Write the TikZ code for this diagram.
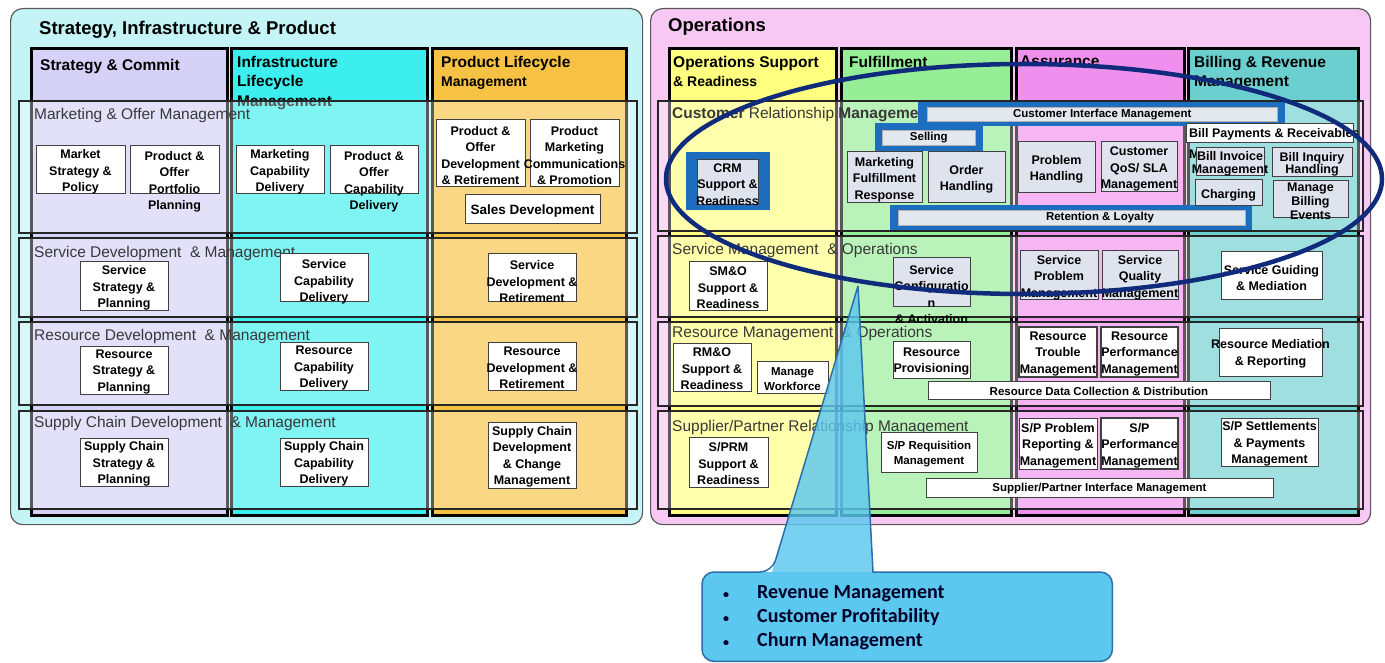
\documentclass[tikz,border=0pt]{standalone}
\usepackage{fontspec}
\setmainfont{Liberation Sans}
\newfontfamily\calloutfamily{Carlito}
\usepackage{tikz}
\usetikzlibrary{shapes.geometric}
\usepackage{xcolor}
\definecolor{sipcolor}{RGB}{197,244,246}
\definecolor{opscolor}{RGB}{247,200,243}
\definecolor{stratcolor}{RGB}{213,209,247}
\definecolor{infracolor}{RGB}{60,238,238}
\definecolor{prodcolor}{RGB}{247,194,68}
\definecolor{osrcolor}{RGB}{255,255,128}
\definecolor{fulcolor}{RGB}{150,238,150}
\definecolor{asscolor}{RGB}{240,144,238}
\definecolor{billcolor}{RGB}{108,207,207}
\definecolor{hlcolor}{RGB}{30,110,191}
\definecolor{barcolor}{RGB}{227,231,238}
\definecolor{greybox}{RGB}{223,227,238}
\definecolor{ringcolor}{RGB}{16,42,124}
\definecolor{calloutcolor}{RGB}{92,200,240}
\definecolor{calloutedge}{RGB}{43,110,170}

\newcommand{\boxfont}{\bfseries\fontsize{12.5}{16.5}\selectfont}
\newcommand{\barfont}{\bfseries\fontsize{11.5}{15}\selectfont}
% fixed size process box, text may spill over the edges
\newcommand{\etombox}[8][]{%
  \node[pbox, #1, minimum width={#5pt-#3pt}, minimum height={#6pt-#4pt}] (#2) at ({(#3+#5)/2},{(#4+#6)/2}) {};
  \node[ptext, yshift=-2pt, #7] (#2-t) at (#2) {#8};}

\begin{document}
\begin{tikzpicture}[x=1pt, y=-1pt,
    panel/.style={draw=black!65, line width=1.2, rounded corners=12, anchor=north west, inner sep=0},
    paneltitle/.style={font=\bfseries\fontsize{18.5}{22}\selectfont, anchor=west, inner sep=0},
    column/.style={draw=black, line width=3, anchor=north west, inner sep=0},
    colhead/.style={font=\bfseries\fontsize{15.5}{19.5}\selectfont, anchor=north west, align=left, inner sep=0},
    band/.style={draw=black!85, line width=1.6, fill=white, fill opacity=0.35, anchor=north west, inner sep=0},
    rowlabel/.style={font=\fontsize{15.5}{18}\selectfont, text=black!78, anchor=west, inner sep=0},
    pbox/.style={draw=black!75, line width=1, fill=white, inner sep=0, outer sep=0},
    ptext/.style={font=\boxfont, align=center, inner sep=0},
    hlframe/.style={fill=hlcolor, inner sep=0, anchor=north west},
    hlbar/.style={fill=barcolor, draw=black!30, line width=0.6, font=\barfont, inner sep=0, anchor=north west},
]
    \useasboundingbox (0,0) rectangle (1385,663);
    \fill[white] (0,0) rectangle (1385,663);

    % Panels
    \node[panel, fill=sipcolor, minimum width=632, minimum height=516] (sip) at (10,8) {};
    \node[panel, fill=opscolor, minimum width=720, minimum height=516] (ops) at (650,8) {};
    \node[paneltitle] (sip-title) at (39,30) {Strategy, Infrastructure \& Product};
    \node[paneltitle] (ops-title) at (668,27) {Operations};

    % Vertical groupings
    \node[column, fill=stratcolor, minimum width=196, minimum height=467] (strat) at (30,47) {};
    \node[column, fill=infracolor, minimum width=196, minimum height=467] (infra) at (230,47) {};
    \node[column, fill=prodcolor, minimum width=194, minimum height=467] (prod) at (431,47) {};
    \node[column, fill=osrcolor, minimum width=167, minimum height=467] (osr) at (668,47) {};
    \node[column, fill=fulcolor, minimum width=170, minimum height=467] (ful) at (840,47) {};
    \node[column, fill=asscolor, minimum width=168, minimum height=467] (ass) at (1015,47) {};
    \node[column, fill=billcolor, minimum width=170, minimum height=467] (bill) at (1187,47) {};

    \node[colhead] (strat-h) at (40,59) {Strategy \& Commit};
    \node[colhead] (infra-h) at (237,56) {Infrastructure\\Lifecycle\\Management};
    \node[colhead] (prod-h) at (441,56) {Product Lifecycle\\{\fontsize{14}{19.5}\selectfont Management}};
    \node[colhead] (osr-h) at (673,56) {Operations Support\\{\fontsize{14}{19.5}\selectfont \& Readiness}};
    \node[colhead] (ful-h) at (849,56) {Fulfillment};
    \node[colhead] (ass-h) at (1020,56) {Assurance};
    \node[colhead] (bill-h) at (1194,56) {Billing \& Revenue\\Management};

    % Horizontal groupings
    \node[band, minimum width=618, minimum height=132] (mom) at (18,100) {};
    \node[band, minimum width=618, minimum height=79] (sdm) at (18,237) {};
    \node[band, minimum width=618, minimum height=83] (rdm) at (18,321) {};
    \node[band, minimum width=618, minimum height=98] (scdm) at (18,410) {};
    \node[band, minimum width=705, minimum height=130] (crmrow) at (657,100) {};
    \node[band, minimum width=705, minimum height=81] (smorow) at (657,235) {};
    \node[band, minimum width=705, minimum height=84] (rmorow) at (657,321) {};
    \node[band, minimum width=705, minimum height=98] (sprmrow) at (657,410) {};

    \node[rowlabel] (mom-l) at (34,115) {Marketing \& Offer Management};
    \node[rowlabel] (sdm-l) at (34,253) {Service Development \ \& Management};
    \node[rowlabel] (rdm-l) at (34,336) {Resource Development \ \& Management};
    \node[rowlabel] (scdm-l) at (34,423) {Supply Chain Development \ \& Management};
    \node[rowlabel] (crm-l) at (672,115) {\textbf{Customer} Relationship \textbf{Management}};
    \node[rowlabel] (smo-l) at (672,250) {Service Management \ \& Operations};
    \node[rowlabel] (rmo-l) at (672,333) {Resource Management \ \& Operations};
    \node[rowlabel] (sprm-l) at (672,427) {Supplier/Partner Relationship Management};

    % Strategy, Infrastructure & Product processes
    \etombox{msp}{36}{146}{125}{194}{}{Market\\Strategy \&\\Policy}
    \etombox{pop}{130}{146}{219}{194}{yshift=-10pt}{Product \&\\Offer\\Portfolio\\Planning}
    \etombox{mcd}{236}{146}{324}{194}{}{Marketing\\Capability\\Delivery}
    \etombox{pocd}{330}{146}{418}{194}{yshift=-10pt}{Product \&\\Offer\\Capability\\Delivery}
    \etombox{podr}{436}{120}{525}{187}{}{Product \&\\Offer\\Development\\\& Retirement}
    \etombox{pmcp}{530}{120}{619}{187}{}{Product\\Marketing\\Communications\\\& Promotion}
    \etombox{sd}{465}{195}{600}{224}{font=\bfseries\fontsize{13.5}{16}\selectfont}{Sales Development}
    \etombox{ssp}{80}{262}{168}{310}{}{Service\\Strategy \&\\Planning}
    \etombox{scd}{280}{254}{368}{302}{yshift=-2pt}{Service\\Capability\\Delivery}
    \etombox{sdr}{488}{254}{576}{302}{yshift=-2pt}{Service\\Development \&\\Retirement}
    \etombox{rsp}{80}{346}{168}{394}{}{Resource\\Strategy \&\\Planning}
    \etombox{rcd}{280}{342}{368}{390}{}{Resource\\Capability\\Delivery}
    \etombox{rdr}{488}{342}{576}{390}{}{Resource\\Development \&\\Retirement}
    \etombox{scsp}{80}{438}{168}{486}{}{Supply Chain\\Strategy \&\\Planning}
    \etombox{sccd}{280}{438}{368}{486}{}{Supply Chain\\Capability\\Delivery}
    \etombox{scdc}{488}{422}{576}{488}{}{Supply Chain\\Development\\\& Change\\Management}

    % Operations: customer relationship management
    \node[hlframe, minimum width=84, minimum height=58] (crm-hl) at (686,152) {};
    \etombox[fill=greybox]{crm}{697}{160}{758}{205}{}{CRM\\Support \&\\Readiness}
    \node[hlframe, minimum width=108, minimum height=28] (sell-hl) at (875,123) {};
    \node[hlframe, minimum width=367, minimum height=24] (cim-hl) at (918,102) {};
    \node[hlbar, minimum width=93, minimum height=15] (sell) at (882,130) {Selling};
    \node[hlbar, minimum width=350, minimum height=14] (cim) at (927,107) {Customer Interface Management};
    \etombox[fill=greybox]{mfr}{847}{152}{922}{203}{}{Marketing\\Fulfillment\\Response}
    \etombox[fill=greybox]{oh}{928}{152}{1005}{203}{}{Order\\Handling}
    \node[hlframe, minimum width=362, minimum height=25] (rl-hl) at (890,205) {};
    \node[hlbar, minimum width=347, minimum height=15] (rl) at (898,210) {};
    \node[ptext, font=\barfont] (rl-t) at (1100,218) {Retention \& Loyalty};
    \etombox[fill=greybox]{ph}{1018}{142}{1095}{193}{}{Problem\\Handling}
    \etombox[fill=greybox]{cqos}{1101}{142}{1177}{192}{}{Customer\\QoS/ SLA\\Management}
    \node[pbox, minimum width=167, minimum height=19, anchor=north west] (bpr) at (1186,124) {};
    \node[ptext, font=\bfseries\fontsize{12.5}{21}\selectfont, align=left, anchor=north west] (bpr-t) at (1189,128) {Bill Payments \& Receivables\\Management};
    \etombox[fill=greybox]{bim}{1196}{148}{1264}{176}{font=\bfseries\fontsize{12.5}{12.5}\selectfont}{Bill Invoice\\Management}
    \etombox[fill=greybox]{bih}{1272}{148}{1352}{177}{font=\bfseries\fontsize{12.5}{12.5}\selectfont}{Bill Inquiry\\Handling}
    \etombox[fill=greybox]{chg}{1195}{180}{1262}{206}{}{Charging}
    \etombox[fill=greybox]{mbe}{1273}{181}{1348}{218}{font=\bfseries\fontsize{12.5}{14}\selectfont}{Manage\\Billing\\Events}

    % Operations: service management & operations
    \etombox{smo}{689}{262}{767}{310}{}{SM\&O\\Support \&\\Readiness}
    \etombox[fill=greybox]{sca}{893}{258}{970}{307}{yshift=-10pt}{Service\\Configuratio\\n\\\& Activation}
    \etombox[fill=greybox]{spm}{1020}{251}{1098}{300}{}{Service\\Problem\\Management}
    \etombox[fill=greybox]{sqm}{1102}{251}{1178}{300}{}{Service\\Quality\\Management}
    \etombox{sgm}{1221}{252}{1322}{300}{}{Service Guiding\\\& Mediation}

    % Operations: resource management & operations
    \etombox{rmo}{673}{343}{751}{391}{}{RM\&O\\Support \&\\Readiness}
    \etombox{mwf}{757}{361}{828}{393}{font=\barfont}{Manage\\Workforce}
    \etombox{rp}{893}{341}{970}{378}{}{Resource\\Provisioning}
    \etombox[line width=1.8]{rtm}{1019}{327}{1097}{377}{}{Resource\\Trouble\\Management}
    \etombox[line width=1.8]{rpm}{1101}{327}{1178}{377}{}{Resource\\Performance\\Management}
    \etombox{rmr}{1219}{328}{1322}{376}{}{Resource Mediation\\\& Reporting}
    \etombox{rdcd}{928}{381}{1270}{399}{font=\barfont, yshift=1pt}{Resource Data Collection \& Distribution}

    % Operations: supplier/partner relationship management
    \etombox{sprm}{689}{437}{768}{487}{}{S/PRM\\Support \&\\Readiness}
    \etombox{sprq}{881}{432}{977}{472}{font=\barfont}{S/P Requisition\\Management}
    \etombox{sppr}{1019}{418}{1097}{469}{}{S/P Problem\\Reporting \&\\Management}
    \etombox[line width=1.8]{sppm}{1101}{418}{1178}{469}{}{S/P\\Performance\\Management}
    \etombox{spsp}{1221}{418}{1318}{466}{}{S/P Settlements\\\& Payments\\Management}
    \etombox{spim}{926}{478}{1273}{497}{font=\barfont, yshift=1pt}{Supplier/Partner Interface Management}

    % CRM focus ring
    \node[draw=ringcolor, line width=4.5, ellipse, minimum width=716, minimum height=230, inner sep=0] (crmring) at (1024,179) {};

    % Callout
    \node[fill=calloutcolor, rounded corners=12, minimum width=410, minimum height=89, anchor=north west, inner sep=0] (callout) at (702,572) {};
    \coordinate (tip) at (858,286);
    \fill[calloutcolor, fill opacity=0.82] ([xshift=70pt]callout.north west) -- (tip) -- ([xshift=171pt]callout.north west) -- cycle;
    \draw[calloutedge, line width=1.5] (tip) -- ([xshift=171pt]callout.north west) [rounded corners=12] -- (callout.north east) -- (callout.south east) -- (callout.south west) -- (callout.north west) -- ([xshift=70pt]callout.north west) [sharp corners] -- (tip);
    \node[font=\calloutfamily\bfseries\fontsize{20}{24}\selectfont, text=black!85!blue, align=left, anchor=west, inner sep=0] (callout-t) at (723,618) {%
        \makebox[34pt][l]{\fontsize{12}{12}\selectfont •}Revenue Management\\
        \makebox[34pt][l]{\fontsize{12}{12}\selectfont •}Customer Profitability\\
        \makebox[34pt][l]{\fontsize{12}{12}\selectfont •}Churn Management};
\end{tikzpicture}
\end{document}
